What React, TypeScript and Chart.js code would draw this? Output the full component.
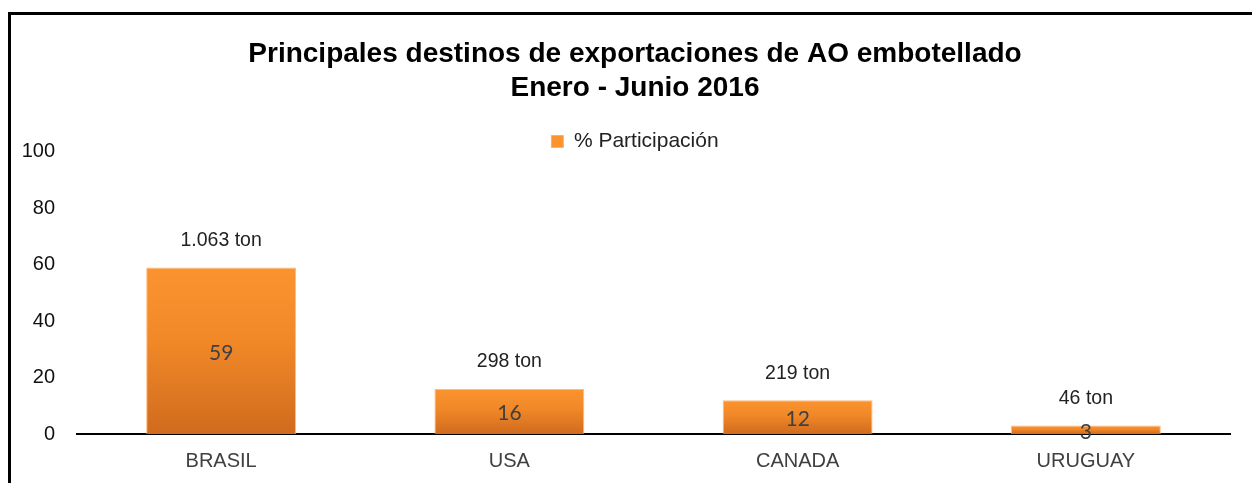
import React, { useEffect, useRef } from "react";
import { Chart, registerables } from "chart.js";

Chart.register(...registerables);

const categories = ["BRASIL", "USA", "CANADA", "URUGUAY"];
const participacion = [59, 16, 12, 3];
const toneladas = [1063, 298, 219, 46];
const yTicks = [0, 20, 40, 60, 80, 100];
const titleLines = ["Principales destinos de exportaciones de AO embotellado", "Enero - Junio 2016"];
const seriesName = "% Participación";

const fmtTon = (n: number) => n.toString().replace(/\B(?=(\d{3})+(?!\d))/g, ".") + " ton";

const FONT = "'Liberation Sans', Arial, sans-serif";
const HEADER_SHIFT = 20;

const framePlugin = {
  id: "frame",
  beforeLayout(chart: any) {
    const lg = chart.legend;
    if (lg && !lg.__patched) {
      const orig = lg.fit.bind(lg);
      lg.fit = function () {
        orig();
        this.height = Math.max(0, this.height - 10);
      };
      lg.__patched = true;
    }
  },
  afterLayout(chart: any) {
    [chart.titleBlock, chart.legend].forEach((b: any) => {
      if (b) {
        b.left += HEADER_SHIFT;
        b.right += HEADER_SHIFT;
      }
    });
  },
  beforeDraw(chart: any) {
    const c = chart.ctx;
    c.save();
    c.fillStyle = "#ffffff";
    c.fillRect(0, 0, chart.width, chart.height);
    c.fillStyle = "#000000";
    c.fillRect(8, 12, chart.width - 8, 3);
    c.fillRect(8, 12, 3, chart.height - 12);
    c.restore();
  },
};

const labelsPlugin = {
  id: "barLabels",
  afterDatasetsDraw(chart: any) {
    const c = chart.ctx;
    const meta = chart.getDatasetMeta(0);
    c.save();
    c.textAlign = "center";
    c.textBaseline = "middle";
    meta.data.forEach((bar: any, i: number) => {
      const props = bar.getProps(["x", "y", "base"], true);
      c.fillStyle = "#404040";
      c.font = "21px Lato, 'Open Sans', sans-serif";
      c.fillText(String(participacion[i]), props.x, (props.y + props.base) / 2 + 2);
      c.fillStyle = "#222222";
      c.font = "19.5px " + FONT;
      c.fillText(fmtTon(toneladas[i]), props.x, props.y - 27);
    });
    c.restore();
  },
};

export default function App() {
  const ref = useRef<HTMLCanvasElement | null>(null);
  useEffect(() => {
    document.body.style.margin = "0";
    if (!ref.current) return;
    const chart = new Chart(ref.current, {
      type: "bar",
      data: {
        labels: categories,
        datasets: [
          {
            label: seriesName,
            data: participacion,
            barPercentage: 0.52,
            categoryPercentage: 1,
            borderWidth: 1,
            borderColor: "rgba(250,170,100,0.8)",
            backgroundColor: (ctx: any) => {
              const ch = ctx.chart;
              const v = ctx.raw;
              if (!ch.chartArea || typeof v !== "number") return "#F08A28";
              const ys = ch.scales.y;
              const top = ys.getPixelForValue(v);
              const bottom = ys.getPixelForValue(0);
              if (!isFinite(top) || !isFinite(bottom) || top === bottom) return "#F08A28";
              const g = ch.ctx.createLinearGradient(0, top, 0, bottom);
              g.addColorStop(0, "#FB942F");
              g.addColorStop(0.45, "#F08828");
              g.addColorStop(1, "#D06B1E");
              return g;
            },
          },
        ],
      },
      options: {
        responsive: false,
        animation: false,
        layout: { padding: { left: 0, right: 22, top: 0, bottom: 0 } },
        plugins: {
          title: {
            display: true,
            text: titleLines,
            color: "#000000",
            font: { family: FONT, size: 28, weight: "bold", lineHeight: 1.214 },
            padding: { top: 37, bottom: 26 },
          },
          legend: {
            display: true,
            position: "top",
            labels: {
              color: "#222222",
              boxWidth: 12,
              boxHeight: 12,
              padding: 0,
              font: { family: FONT, size: 21 },
            },
          },
          tooltip: { enabled: false },
        },
        scales: {
          x: {
            grid: { display: false, drawTicks: false },
            border: { display: true, color: "#000000", width: 2 },
            afterFit: (scale: any) => {
              scale.height = 49;
            },
            ticks: {
              color: "#404040",
              padding: 15,
              font: { family: FONT, size: 20 },
            },
          },
          y: {
            min: 0,
            max: 100,
            afterBuildTicks: (scale: any) => {
              scale.ticks = yTicks.map((v) => ({ value: v }));
            },
            afterFit: (scale: any) => {
              scale.width = 77;
            },
            grid: { display: false, drawTicks: false },
            border: { display: false },
            ticks: {
              color: "#111111",
              padding: 22,
              font: { family: FONT, size: 20 },
            },
          },
        },
      },
      plugins: [framePlugin, labelsPlugin],
    });
    return () => chart.destroy();
  }, []);
  return <canvas ref={ref} width={1252} height={483} style={{ display: "block" }} />;
}
